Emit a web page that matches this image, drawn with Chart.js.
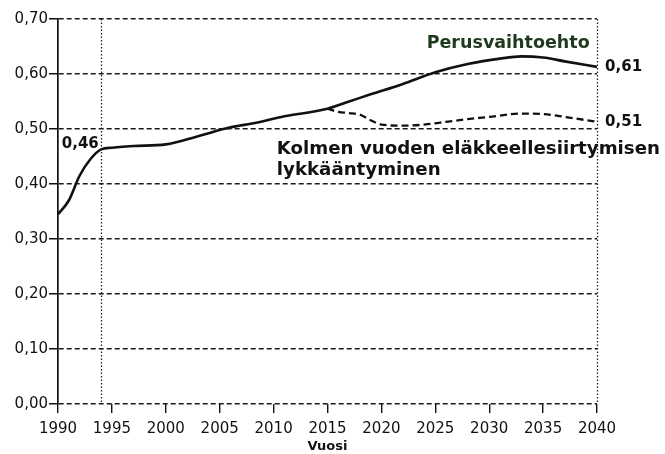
<!DOCTYPE html>
<html>
<head>
<meta charset="utf-8">
<script src="https://cdn.jsdelivr.net/npm/chart.js@4"></script>
<style>
html,body{margin:0;padding:0;background:#fff;}
#wrap{width:665px;height:454px;position:relative;}
</style>
</head>
<body>
<div id="wrap"><canvas id="c" width="665" height="454"></canvas></div>
<script>
const baseYears = [1990,1991,1992,1993,1994,1995,1997,2000,2003,2006,2008,2011,2015,2017,2019,2022,2025,2028,2031,2033,2035,2037,2040];
const baseValues = [0.345,0.37,0.415,0.445,0.463,0.466,0.469,0.472,0.487,0.503,0.510,0.523,0.537,0.550,0.563,0.582,0.603,0.618,0.628,0.632,0.630,0.623,0.613];
const altYears = [2015,2016,2017,2018,2019,2020,2022,2024,2026,2028,2030,2033,2035,2037,2040];
const altValues = [0.537,0.531,0.529,0.526,0.516,0.508,0.506,0.508,0.513,0.518,0.522,0.528,0.527,0.522,0.513];
const yTicks = [0,0.1,0.2,0.3,0.4,0.5,0.6,0.7];
const xTicks = [1990,1995,2000,2005,2010,2015,2020,2025,2030,2035,2040];
const markerYear = 1994;
const labels = [
  {text:'Perusvaihtoehto', x:2024.2, y:0.656, color:'#1e3a1e', size:17.5},
  {text:'Kolmen vuoden eläkkeellesiirtymisen', x:2010.3, y:0.4636, color:'#111', size:18.2},
  {text:'lykkääntyminen', x:2010.3, y:0.4255, color:'#111', size:18.2},
  {text:'0,46', x:1990.35, y:0.473, color:'#111', size:15},
  {text:'0,61', x:2040.75, y:0.613, color:'#111', size:15},
  {text:'0,51', x:2040.75, y:0.512, color:'#111', size:15}
];

const fmt = v => v.toFixed(2).replace('.', ',');
const FONT = "'DejaVu Sans', 'Liberation Sans', Arial, sans-serif";

const overlay = {
  id:'overlay',
  afterDraw(chart){
    const {ctx, scales:{x,y}, chartArea:a} = chart;
    ctx.save();
    ctx.strokeStyle = '#222';
    ctx.lineWidth = 1.3;
    ctx.setLineDash([1.5,2]);
    [markerYear, 2040].forEach(yr=>{
      const px = Math.round(x.getPixelForValue(yr))+0.5;
      ctx.beginPath(); ctx.moveTo(px, a.top); ctx.lineTo(px, a.bottom); ctx.stroke();
    });
    ctx.setLineDash([]);
    ctx.textBaseline = 'middle';
    ctx.textAlign = 'left';
    labels.forEach(l=>{
      ctx.fillStyle = l.color;
      ctx.font = 'bold ' + l.size + 'px ' + FONT;
      ctx.fillText(l.text, x.getPixelForValue(l.x), y.getPixelForValue(l.y));
    });
    ctx.restore();
  }
};

new Chart(document.getElementById('c'), {
  type:'line',
  data:{
    datasets:[
      {label:'Perusvaihtoehto', data: baseYears.map((yr,i)=>({x:yr,y:baseValues[i]})),
       borderColor:'#111', borderWidth:2.6, pointRadius:0, cubicInterpolationMode:'monotone', fill:false},
      {label:'Kolmen vuoden eläkkeellesiirtymisen lykkääntyminen', data: altYears.map((yr,i)=>({x:yr,y:altValues[i]})),
       borderColor:'#111', borderWidth:2.3, borderDash:[7,4], pointRadius:0, cubicInterpolationMode:'monotone', fill:false}
    ]
  },
  options:{
    responsive:false,
    animation:false,
    layout:{padding:{top:19, right:68, left:0, bottom:0}},
    plugins:{legend:{display:false}, tooltip:{enabled:false}, title:{display:false}},
    scales:{
      x:{
        type:'linear', min:1990, max:2040,
        afterBuildTicks(s){ s.ticks = xTicks.map(v=>({value:v})); },
        afterFit(s){ s.height = 50; },
        ticks:{color:'#111', font:{family:FONT, size:15}, padding:7, maxRotation:0, autoSkip:false, callback:v=>String(v)},
        grid:{drawOnChartArea:false, drawTicks:true, tickLength:9, color:'#111', lineWidth:1.4},
        border:{display:false},
        title:{display:true, text:'Vuosi', color:'#111', font:{family:FONT, size:13, weight:'bold'}, padding:{top:0,bottom:0}}
      },
      y:{
        min:0, max:0.7,
        afterBuildTicks(s){ s.ticks = yTicks.map(v=>({value:v})); },
        afterFit(s){ s.width = 58; },
        ticks:{color:'#111', font:{family:FONT, size:15}, padding:1, callback:v=>fmt(v)},
        grid:{color:'#1a1a1a', lineWidth:1.5, tickLength:9, tickBorderDash:[], tickColor:'#111'},
        border:{display:true, color:'#111', width:1.7, dash:[5,3]}
      }
    }
  },
  plugins:[overlay]
});
</script>
</body>
</html>
